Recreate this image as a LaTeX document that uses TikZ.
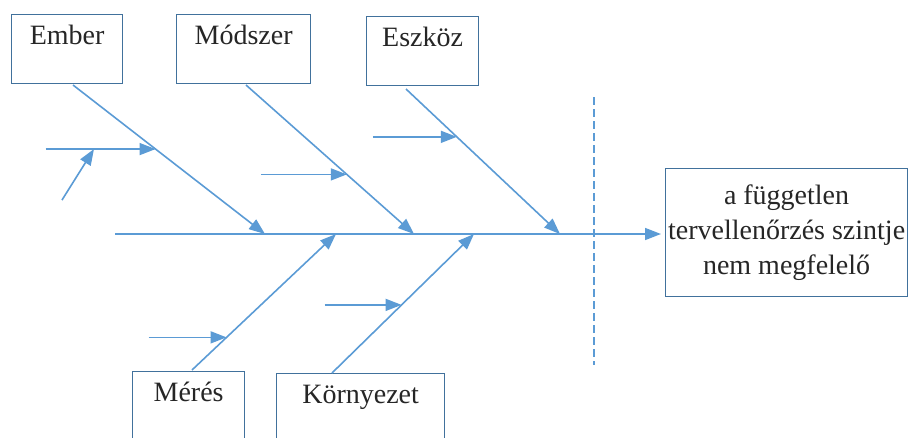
\documentclass[tikz,border=0pt]{standalone}
\usepackage{fontspec}
\setmainfont{Liberation Serif}
\usetikzlibrary{arrows.meta, positioning, calc}
\definecolor{bonecolor}{RGB}{91, 155, 213}
\definecolor{boxcolor}{RGB}{65, 113, 156}
\definecolor{textgray}{RGB}{38, 38, 38}

\begin{document}
\begin{tikzpicture}[
    x=0.75pt, y=-0.75pt,
    category/.style={draw=boxcolor, line width=0.9pt, fill=white, anchor=north west, inner sep=0pt, minimum height=51.75pt, text height=22.5pt, text depth=29.25pt, font=\fontsize{21}{26}\selectfont, text=textgray},
    effect/.style={draw=boxcolor, line width=0.9pt, fill=white, anchor=north west, inner sep=0pt, minimum width=181.5pt, minimum height=96pt, align=center, font=\fontsize{21}{26.25}\selectfont, text=textgray},
    arrow/.style={-{Triangle[length=12pt, width=9pt]}, line width=1.2pt, bonecolor}
]
    \clip (0,0) rectangle (908,437);

    % Nodes - top row
    \node[category, minimum width=83.25pt] (ember) at (11,14) {Ember};
    \node[category, minimum width=100.5pt] (modszer) at (176,14) {Módszer};
    \node[category, minimum width=84pt] (eszkoz) at (366,16) {Eszköz};

    % Nodes - bottom row
    \node[category, minimum width=84pt] (meres) at (132,371) {Mérés};
    \node[category, minimum width=126pt] (kornyezet) at (276,373) {Környezet};

    % Effect
    \node[effect] (hatas) at (665,168) {a független\\tervellenőrzés szintje\\nem megfelelő};

    % Spine and bone points
    \coordinate (spinestart) at (115,234);
    \coordinate (s1) at (265,234);
    \coordinate (s2) at (414,234);
    \coordinate (s3) at (560,234);
    \coordinate (s4) at (336,234);
    \coordinate (s5) at (474,234);
    \coordinate (emberroot) at (73,85);
    \coordinate (modszerroot) at (246,85);
    \coordinate (eszkozroot) at (406,89);
    \coordinate (meresroot) at (192,370);
    \coordinate (kornyezetroot) at (332,373);

    % Dashed separator
    \coordinate (septop) at (594,97);
    \coordinate (sepbottom) at (594,365);
    \draw[bonecolor, line width=0.9pt, dash pattern=on 6pt off 3pt] (septop) -- (sepbottom);

    % Spine
    \draw[arrow, shorten >=3pt] (spinestart) -- (spinestart -| hatas.west);

    % Bones
    \draw[arrow] (emberroot) -- (s1);
    \draw[arrow] (modszerroot) -- (s2);
    \draw[arrow] (eszkozroot) -- (s3);
    \draw[arrow] (meresroot) -- (s4);
    \draw[arrow] (kornyezetroot) -- (s5);

    % Sub-causes
    \coordinate (ember1) at ($(emberroot)!0.43!(s1)$);
    \coordinate (ember1a) at ($(ember1)+(-110,0)$);
    \coordinate (ember2) at ($(ember1a)!0.44!(ember1)$);
    \coordinate (modszer1) at ($(modszerroot)!0.6!(s2)$);
    \coordinate (eszkoz1) at ($(eszkozroot)!0.33!(s3)$);
    \coordinate (meres1) at ($(meresroot)!0.24!(s4)$);
    \coordinate (kornyezet1) at ($(kornyezetroot)!0.49!(s5)$);

    \draw[arrow] (ember1a) -- (ember1);
    \draw[arrow] ($(ember2)+(-32,51)$) -- (ember2);
    \draw[arrow] ($(modszer1)+(-86,0)$) -- (modszer1);
    \draw[arrow] ($(eszkoz1)+(-84,0)$) -- (eszkoz1);
    \draw[arrow] ($(meres1)+(-78,0)$) -- (meres1);
    \draw[arrow] ($(kornyezet1)+(-77,0)$) -- (kornyezet1);
\end{tikzpicture}
\end{document}
